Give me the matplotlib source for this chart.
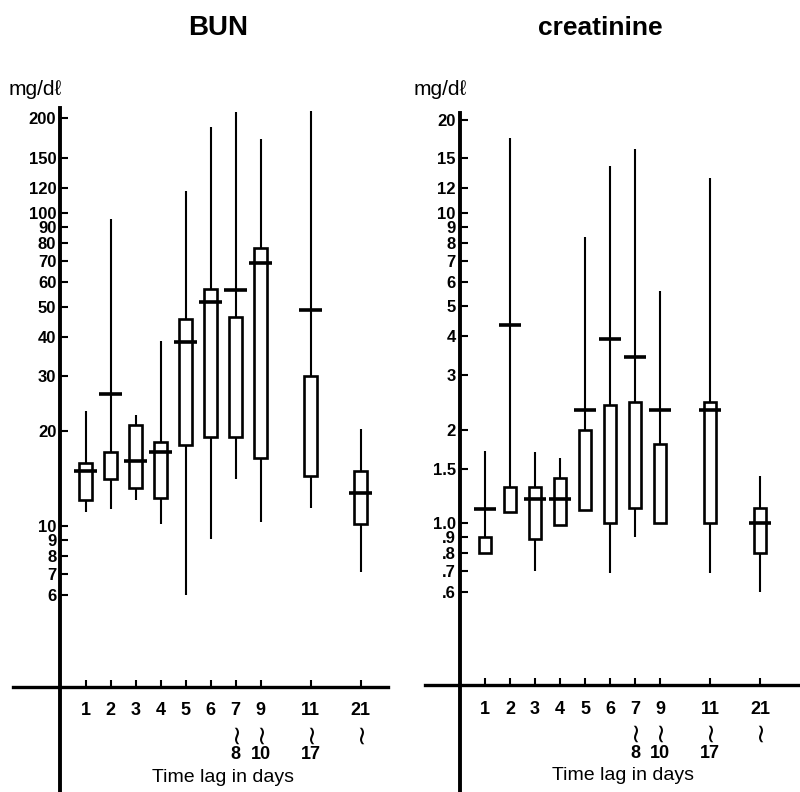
import matplotlib
matplotlib.use("Agg")
import matplotlib.pyplot as plt
from matplotlib.ticker import NullLocator

plt.rcParams["font.family"] = ["Liberation Sans", "DejaVu Sans"]

# ----------------------
# Data
# ----------------------
positions = [1, 2, 3, 4, 5, 6, 7, 8, 10, 12]
lag_start = ["1", "2", "3", "4", "5", "6", "7", "9", "11", "21"]
lag_end = ["", "", "", "", "", "", "8", "10", "17", ""]
lag_range = [False, False, False, False, False, False, True, True, True, True]

# BUN (mg/dl)
bun_lo = [11.1, 11.3, 12.1, 10.1, 6.0, 9.1, 14.1, 10.3, 11.4, 7.1]
bun_q1 = [12.1, 14.1, 13.2, 12.3, 18.1, 19.2, 19.2, 16.4, 14.4, 10.1]
bun_med = [15.0, 26.4, 16.1, 17.2, 38.5, 52.0, 56.7, 69.2, 49.0, 12.7]
bun_q3 = [15.9, 17.2, 20.9, 18.5, 45.8, 57.1, 46.3, 77.3, 30.1, 15.0]
bun_hi = [23.3, 95.7, 22.6, 39.0, 117, 188, 209, 172, 212, 20.4]
bun_ticks = [200, 150, 120, 100, 90, 80, 70, 60, 50, 40, 30, 20, 10, 9, 8, 7, 6]
bun_labels = ["200", "150", "120", "100", "90", "80", "70", "60", "50", "40",
              "30", "20", "10", "9", "8", "7", "6"]

# creatinine (mg/dl)
cre_lo = [0.80, 1.09, 0.70, 0.99, 1.10, 0.69, 0.90, 1.00, 0.69, 0.60]
cre_q1 = [0.80, 1.09, 0.89, 0.99, 1.10, 1.00, 1.12, 1.00, 1.00, 0.80]
cre_med = [1.11, 4.35, 1.20, 1.20, 2.31, 3.92, 3.43, 2.31, 2.31, 1.00]
cre_q3 = [0.90, 1.31, 1.31, 1.40, 2.00, 2.40, 2.46, 1.80, 2.46, 1.12]
cre_hi = [1.71, 17.5, 1.69, 1.62, 8.37, 14.2, 16.1, 5.6, 13.0, 1.42]
cre_ticks = [20, 15, 12, 10, 9, 8, 7, 6, 5, 4, 3, 2, 1.5, 1.0, 0.9, 0.8, 0.7, 0.6]
cre_labels = ["20", "15", "12", "10", "9", "8", "7", "6", "5", "4", "3", "2",
              "1.5", "1.0", ".9", ".8", ".7", ".6"]


def draw_panel(ax, lo, q1, med, q3, hi, ticks, labels, ylim, xlim, xline):
    ax.set_yscale("log")
    ax.set_ylim(*ylim)
    ax.set_xlim(*xlim)

    # whiskers, boxes, medians
    ax.vlines(positions, lo, hi, color="black", lw=1.5, zorder=1)
    heights = [b - a for a, b in zip(q1, q3)]
    ax.bar(positions, heights, bottom=q1, width=0.5, facecolor="white",
           edgecolor="black", linewidth=1.9, zorder=2)
    ax.hlines(med, [p - 0.45 for p in positions], [p + 0.45 for p in positions],
              color="black", lw=2.6, zorder=3)

    # axes lines
    for s in ["top", "right"]:
        ax.spines[s].set_visible(False)
    ax.spines["left"].set_position(("data", 0))
    ax.spines["left"].set_linewidth(2.8)
    ax.spines["bottom"].set_position(("data", xline))
    ax.spines["bottom"].set_linewidth(2.4)

    ax.set_yticks(ticks, labels)
    ax.yaxis.set_minor_locator(NullLocator())
    ax.tick_params(axis="y", direction="in", length=6, width=1.5, pad=3,
                   labelsize=12)
    for t in ax.get_yticklabels():
        t.set_fontweight("bold")

    ax.set_xticks(positions)
    ax.tick_params(axis="x", direction="in", length=5, width=1.5,
                   labelbottom=False)

    # x tick labels with range squiggles
    for p, a, b, r in zip(positions, lag_start, lag_end, lag_range):
        ax.annotate(a, xy=(p, xline), xytext=(0, -11), textcoords="offset points",
                    ha="center", va="top", fontsize=13, fontweight="bold")
        if r:
            ax.annotate("~", xy=(p, xline), xytext=(0, -33), textcoords="offset points",
                        ha="center", va="center", fontsize=19, rotation=90,
                        family="DejaVu Sans")
        if b:
            ax.annotate(b, xy=(p, xline), xytext=(0, -43), textcoords="offset points",
                        ha="center", va="top", fontsize=13, fontweight="bold")
    ax.annotate("Time lag in days", xy=(6.5, xline), xytext=(0, -59),
                textcoords="offset points", ha="center", va="top", fontsize=14,
                annotation_clip=False)


fig = plt.figure(figsize=(8, 7.92), dpi=100)
W, H = 800, 792

# ----------------------
# Left panel: BUN
# ----------------------
ax1 = fig.add_axes([13 / W, 0, 375 / W, 684 / H])
ax1.patch.set_alpha(0)
draw_panel(ax1, bun_lo, bun_q1, bun_med, bun_q3, bun_hi, bun_ticks, bun_labels,
           (1.41, 216), (-1.9, 13.1), 3.06)

# ----------------------
# Right panel: creatinine
# ----------------------
ax2 = fig.add_axes([425 / W, 0, 375 / W, 679 / H])
ax2.patch.set_alpha(0)
draw_panel(ax2, cre_lo, cre_q1, cre_med, cre_q3, cre_hi, cre_ticks, cre_labels,
           (0.136, 21.0), (-1.4, 13.6), 0.30)

# titles and units
fig.text(218 / W, 1 - 35 / H, "BUN", ha="center", va="baseline",
         fontsize=20, fontweight="bold")
fig.text(600 / W, 1 - 35 / H, "creatinine", ha="center", va="baseline",
         fontsize=19, fontweight="bold")
fig.text(9 / W, 1 - 95 / H, "mg/dℓ", ha="left", va="baseline", fontsize=15)
fig.text(414 / W, 1 - 95 / H, "mg/dℓ", ha="left", va="baseline", fontsize=15)

fig.savefig("out.png", dpi=100)
